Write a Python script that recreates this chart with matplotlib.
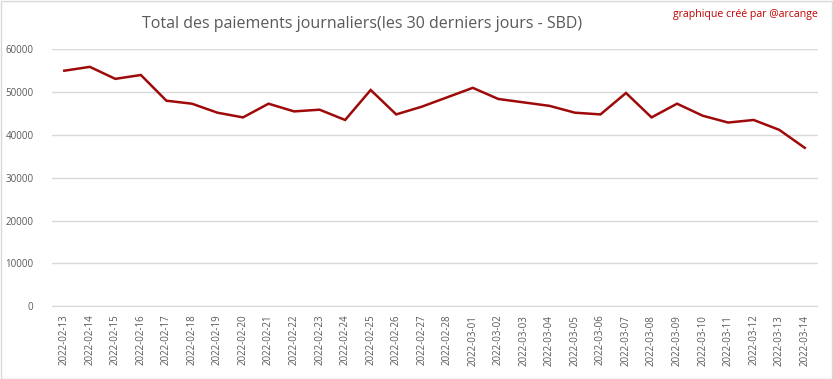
import matplotlib.pyplot as plt
from matplotlib.patches import Rectangle

dates = ["2022-02-13", "2022-02-14", "2022-02-15", "2022-02-16", "2022-02-17",
         "2022-02-18", "2022-02-19", "2022-02-20", "2022-02-21", "2022-02-22",
         "2022-02-23", "2022-02-24", "2022-02-25", "2022-02-26", "2022-02-27",
         "2022-02-28", "2022-03-01", "2022-03-02", "2022-03-03", "2022-03-04",
         "2022-03-05", "2022-03-06", "2022-03-07", "2022-03-08", "2022-03-09",
         "2022-03-10", "2022-03-11", "2022-03-12", "2022-03-13", "2022-03-14"]
paiements = [55000, 55900, 53100, 54000, 48000, 47300, 45200, 44100, 47300, 45500,
             45900, 43500, 50500, 44800, 46600, 48800, 51000, 48400, 47600, 46800,
             45200, 44800, 49800, 44100, 47300, 44500, 42900, 43500, 41200, 37000]
yticks = [0, 10000, 20000, 30000, 40000, 50000, 60000]

plt.rcParams['font.family'] = ['Open Sans', 'DejaVu Sans']

fig = plt.figure(figsize=(8.33, 3.79), dpi=100)
ax = fig.add_axes([51.5/833, 1 - 306.3/379, 766/833, (306.3 - 49.3)/379])

x = range(len(dates))
ax.plot(x, paiements, color='#9E0A0A', linewidth=1.8, solid_joinstyle='miter')

ax.set_xlim(-0.5, len(dates) - 0.5)
ax.set_ylim(0, 60000)
ax.set_yticks(yticks)
ax.set_yticklabels([str(v) for v in yticks], fontsize=7, color='#595959')
ax.set_xticks(list(x))
ax.set_xticklabels(dates, rotation=90, fontsize=7, color='#595959')
ax.tick_params(axis='both', length=0)
ax.tick_params(axis='y', pad=13)
ax.tick_params(axis='x', pad=6)
ax.grid(axis='y', color='#D9D9D9', linewidth=1)
ax.set_axisbelow(True)
for s in ['top', 'right', 'left']:
    ax.spines[s].set_visible(False)
ax.spines['bottom'].set_color('#D9D9D9')

fig.text(362/833, 1 - 24/379, "Total des paiements journaliers(les 30 derniers jours - SBD)",
         ha='center', va='center', fontsize=11.5, color='#595959')
fig.text(818/833, 1 - 15/379, "graphique créé par @arcange",
         ha='right', va='center', fontsize=7.6, color='#C00000')

fig.patches.append(Rectangle((0.5/833, 0.5/379), 1 - 1.5/833, 1 - 1.5/379,
                             transform=fig.transFigure, fill=False,
                             edgecolor='#D9D9D9', linewidth=1))

fig.savefig('out.png', dpi=100)
